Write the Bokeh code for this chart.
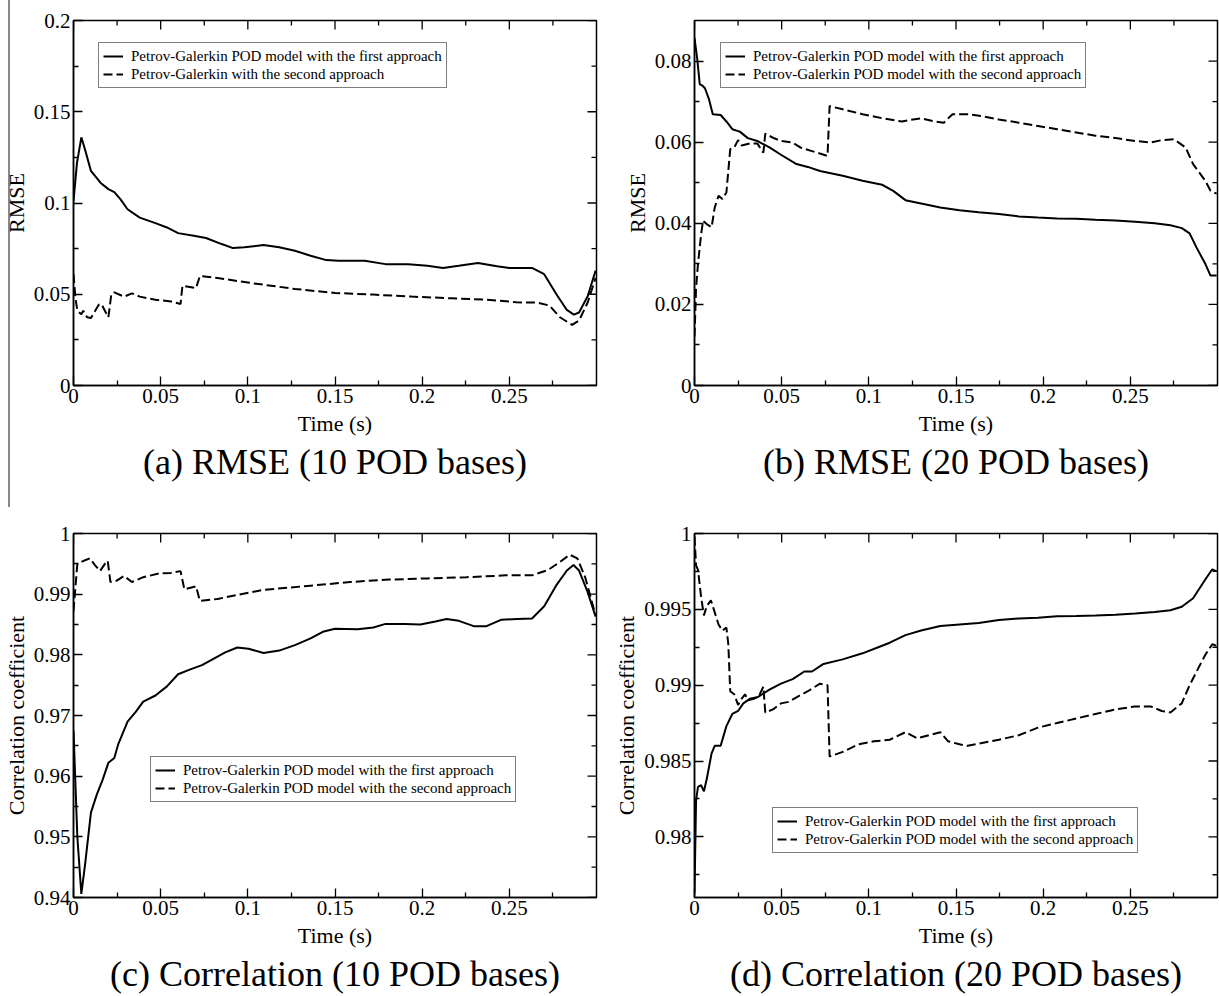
import math
from bokeh.plotting import figure
from bokeh.models import (FixedTicker, CustomJSTickFormatter, Range1d,
                          Title, Legend, LegendItem)
from bokeh.layouts import row, column
from bokeh.embed import file_html
from bokeh.resources import INLINE

# ---------------- data ----------------
x_major = [0, 0.05, 0.1, 0.15, 0.2, 0.25]
x_minor = [0.025, 0.075, 0.125, 0.175, 0.225, 0.275]

a_t_solid = [0.0, 0.002, 0.0045, 0.007, 0.010, 0.0156, 0.020, 0.0234, 0.027, 0.031, 0.038, 0.047,
             0.0536, 0.060, 0.069, 0.076, 0.085, 0.0915, 0.098, 0.109, 0.118, 0.127, 0.136, 0.145,
             0.152, 0.167, 0.179, 0.192, 0.203, 0.212, 0.221, 0.232, 0.243, 0.250, 0.263, 0.270,
             0.277, 0.283, 0.287, 0.290, 0.295, 0.2995]
a_solid = [0.101, 0.122, 0.136, 0.128, 0.1176, 0.111, 0.1076, 0.106, 0.102, 0.0966, 0.092, 0.089,
           0.0866, 0.0835, 0.082, 0.0808, 0.0775, 0.0753, 0.0757, 0.077, 0.0757, 0.0738, 0.0711, 0.0687,
           0.0684, 0.0684, 0.0665, 0.0665, 0.0656, 0.0644, 0.0656, 0.0671, 0.0653, 0.0644, 0.0644, 0.061,
           0.050, 0.0414, 0.0388, 0.040, 0.049, 0.063]
a_t_dash = [0.0, 0.0011, 0.0022, 0.0045, 0.0056, 0.0078, 0.010, 0.0145, 0.016, 0.018, 0.020, 0.0217,
            0.0234, 0.029, 0.0335, 0.038, 0.047, 0.056, 0.0614, 0.0625, 0.0703, 0.0725, 0.0826, 0.103,
            0.127, 0.150, 0.172, 0.194, 0.2165, 0.239, 0.254, 0.266, 0.273, 0.279, 0.286, 0.290,
            0.295, 0.2995]
a_dash = [0.061, 0.048, 0.041, 0.039, 0.041, 0.0374, 0.037, 0.0443, 0.0447, 0.041, 0.0374, 0.050,
          0.051, 0.0487, 0.0505, 0.0487, 0.047, 0.046, 0.0447, 0.0547, 0.0534, 0.060, 0.0589, 0.056,
          0.0529, 0.0507, 0.0498, 0.0487, 0.0478, 0.0469, 0.0456, 0.0454, 0.0438, 0.0374, 0.0332, 0.0356,
          0.0456, 0.059]

b_t_solid = [0.0, 0.0016, 0.003, 0.0049, 0.006, 0.0083, 0.0105, 0.015, 0.0183, 0.0217, 0.026, 0.0306,
             0.036, 0.043, 0.0496, 0.0585, 0.065, 0.072, 0.085, 0.0964, 0.1076, 0.114, 0.121, 0.130,
             0.141, 0.152, 0.163, 0.1746, 0.186, 0.197, 0.208, 0.219, 0.230, 0.2415, 0.2527, 0.264,
             0.273, 0.2795, 0.284, 0.288, 0.293, 0.296, 0.2995]
b_solid = [0.0857, 0.0804, 0.0743, 0.0738, 0.0733, 0.0706, 0.0669, 0.0667, 0.0651, 0.0632, 0.0626, 0.061,
           0.0603, 0.0587, 0.0569, 0.0546, 0.0539, 0.0529, 0.0517, 0.0505, 0.0495, 0.048, 0.0457, 0.0449,
           0.0439, 0.0432, 0.0427, 0.0423, 0.0417, 0.0414, 0.0412, 0.0411, 0.0409, 0.0407, 0.0404, 0.040,
           0.0395, 0.0388, 0.0375, 0.034, 0.030, 0.0271, 0.0271]
b_t_dash = [0.0, 0.0009, 0.002, 0.0038, 0.0049, 0.007, 0.0098, 0.0116, 0.0138, 0.016, 0.0183, 0.0205,
            0.0228, 0.025, 0.027, 0.0317, 0.036, 0.0395, 0.0406, 0.045, 0.0496, 0.0563, 0.0607, 0.0674,
            0.0763, 0.0775, 0.085, 0.0964, 0.1076, 0.119, 0.1254, 0.130, 0.1366, 0.143, 0.148, 0.157,
            0.1634, 0.1746, 0.186, 0.197, 0.208, 0.219, 0.230, 0.2415, 0.2527, 0.2616, 0.268, 0.275,
            0.2817, 0.286, 0.293, 0.296, 0.2995]
b_dash = [0.012, 0.024, 0.030, 0.0373, 0.0406, 0.0398, 0.039, 0.0439, 0.0468, 0.046, 0.0476, 0.0583,
          0.0587, 0.0605, 0.0592, 0.0597, 0.0597, 0.0574, 0.0621, 0.0611, 0.0603, 0.0599, 0.0587, 0.0578,
          0.0566, 0.0689, 0.0681, 0.0669, 0.0659, 0.0651, 0.0656, 0.0659, 0.0652, 0.0648, 0.0669, 0.0669,
          0.0665, 0.0656, 0.0648, 0.064, 0.0632, 0.0624, 0.0616, 0.061, 0.0603, 0.0599, 0.0605, 0.0607,
          0.0587, 0.0546, 0.0505, 0.048, 0.0473]

c_t_solid = [0.0, 0.0022, 0.0045, 0.0067, 0.010, 0.0134, 0.0167, 0.020, 0.0234, 0.0257, 0.031, 0.0357,
             0.040, 0.047, 0.0536, 0.060, 0.067, 0.0737, 0.080, 0.087, 0.094, 0.1004, 0.109, 0.118,
             0.127, 0.136, 0.143, 0.150, 0.163, 0.172, 0.179, 0.190, 0.199, 0.2076, 0.214, 0.221,
             0.230, 0.2366, 0.2455, 0.2545, 0.263, 0.270, 0.2768, 0.283, 0.2868, 0.290, 0.2946, 0.2995]
c_solid = [0.9675, 0.950, 0.9406, 0.9456, 0.954, 0.957, 0.9594, 0.9622, 0.963, 0.9653, 0.969, 0.9706,
           0.9723, 0.9733, 0.9748, 0.9768, 0.9776, 0.9783, 0.9793, 0.9804, 0.9812, 0.981, 0.9803, 0.9807,
           0.9816, 0.9827, 0.9838, 0.9843, 0.9842, 0.9845, 0.9851, 0.9851, 0.985, 0.9855, 0.9859, 0.9856,
           0.9847, 0.9847, 0.9858, 0.9859, 0.986, 0.988, 0.9914, 0.9939, 0.9948, 0.9939, 0.9906, 0.9863]
c_t_dash = [0.0, 0.0022, 0.0045, 0.0067, 0.0094, 0.0123, 0.0152, 0.018, 0.0196, 0.0212, 0.0246, 0.029,
            0.0335, 0.040, 0.049, 0.0558, 0.0614, 0.0636, 0.0703, 0.0725, 0.0826, 0.096, 0.109, 0.136,
            0.1585, 0.181, 0.203, 0.2254, 0.248, 0.263, 0.2723, 0.279, 0.2846, 0.289, 0.2935, 0.2995]
c_dash = [0.9872, 0.995, 0.9953, 0.9956, 0.9959, 0.9948, 0.9938, 0.995, 0.9955, 0.992, 0.9922, 0.993,
          0.992, 0.9928, 0.9934, 0.9935, 0.9938, 0.9908, 0.9913, 0.9889, 0.9892, 0.990, 0.9907, 0.9914,
          0.992, 0.9924, 0.9926, 0.9928, 0.9931, 0.9931, 0.994, 0.9953, 0.9965, 0.9959, 0.9928, 0.9865]

d_t_solid = [0.0, 0.0009, 0.002, 0.0038, 0.0054, 0.007, 0.0098, 0.0116, 0.015, 0.0183, 0.0217, 0.025,
             0.028, 0.0317, 0.036, 0.043, 0.0496, 0.0563, 0.063, 0.0674, 0.074, 0.085, 0.0964, 0.1076,
             0.112, 0.121, 0.130, 0.141, 0.152, 0.163, 0.1746, 0.186, 0.197, 0.208, 0.219, 0.230,
             0.2415, 0.2527, 0.264, 0.273, 0.2795, 0.286, 0.293, 0.297, 0.2995]
d_solid = [0.9763, 0.9824, 0.9833, 0.9834, 0.983, 0.9838, 0.9855, 0.986, 0.986, 0.9873, 0.9881, 0.9883,
           0.9888, 0.9891, 0.9892, 0.9897, 0.9901, 0.9904, 0.9909, 0.9909, 0.9914, 0.9917, 0.9921, 0.9926,
           0.9928, 0.9933, 0.9936, 0.9939, 0.994, 0.9941, 0.9943, 0.9944, 0.99445, 0.99454, 0.99456, 0.9946,
           0.99465, 0.99472, 0.99483, 0.99494, 0.99517, 0.99573, 0.99697, 0.99764, 0.9975]
d_t_dash = [0.0, 0.0009, 0.002, 0.0038, 0.0054, 0.007, 0.0094, 0.0116, 0.0138, 0.016, 0.0183, 0.0194,
            0.0205, 0.0228, 0.025, 0.027, 0.029, 0.0306, 0.034, 0.037, 0.0395, 0.0406, 0.045, 0.0496,
            0.054, 0.0585, 0.065, 0.072, 0.0763, 0.0775, 0.085, 0.094, 0.103, 0.112, 0.121, 0.1277,
            0.1344, 0.141, 0.1455, 0.152, 0.1567, 0.1656, 0.1746, 0.186, 0.197, 0.208, 0.219, 0.230,
            0.2415, 0.2527, 0.2616, 0.268, 0.273, 0.2795, 0.284, 0.288, 0.293, 0.297, 0.2995]
d_dash = [0.9998, 0.9979, 0.9976, 0.9958, 0.9946, 0.9952, 0.9956, 0.9948, 0.994, 0.9936, 0.9938, 0.9927,
          0.9896, 0.9894, 0.9887, 0.9891, 0.9894, 0.989, 0.9891, 0.9893, 0.9899, 0.9882, 0.9884, 0.9888,
          0.9889, 0.9892, 0.9896, 0.9901, 0.990, 0.9853, 0.9856, 0.9861, 0.9863, 0.9864, 0.9869, 0.9865,
          0.9867, 0.9869, 0.9863, 0.9861, 0.986, 0.9862, 0.9864, 0.9867, 0.9872, 0.9875, 0.9878, 0.9881,
          0.9884, 0.9886, 0.9886, 0.9883, 0.9882, 0.9888, 0.990, 0.9909, 0.992, 0.9927, 0.9926]

lab_first = "Petrov-Galerkin POD model with the first approach"
lab_second = "Petrov-Galerkin POD model with the second approach"
lab_second_a = "Petrov-Galerkin with the second approach"

SERIF = "Liberation Serif"
X_END = 0.3


def style_axis(ax, ticker):
    ax.ticker = ticker
    ax.major_tick_in = 9
    ax.major_tick_out = 0
    ax.minor_tick_in = 5
    ax.minor_tick_out = 0
    ax.major_tick_line_color = "black"
    ax.minor_tick_line_color = "black"
    ax.major_tick_line_width = 1.3
    ax.minor_tick_line_width = 1.3
    ax.axis_line_color = "black"
    ax.axis_line_width = 1.5
    ax.major_label_text_font = SERIF
    ax.major_label_text_font_size = "21px"
    ax.major_label_text_color = "black"
    ax.major_label_standoff = 3
    ax.formatter = CustomJSTickFormatter(code="return String(parseFloat(tick.toFixed(4)));")
    ax.axis_label_text_font = SERIF
    ax.axis_label_text_font_size = "22px"
    ax.axis_label_text_font_style = "normal"
    ax.axis_label_text_color = "black"


def mirror_ticks(p, ticks, length, y_top, horizontal):
    # tick marks on the opposite (top / right) frame edges, pointing inward
    if horizontal:
        p.ray(x=ticks, y=[y_top] * len(ticks), length=length, length_units="screen",
              angle=-math.pi / 2, line_color="black", line_width=1.3)
    else:
        p.ray(x=[X_END] * len(ticks), y=ticks, length=length, length_units="screen",
              angle=math.pi, line_color="black", line_width=1.3)


def make_panel(width, height, bl, br, bt, bb, ylim, ymajor, yminor, ylabel, caption,
               ts, vs, td, vd, lab2, leg_loc):
    p = figure(width=width, height=height, x_range=Range1d(0, X_END), y_range=Range1d(*ylim),
               output_backend="svg", toolbar_location=None,
               min_border_left=bl, min_border_right=br, min_border_top=bt, min_border_bottom=bb)
    p.grid.visible = False
    p.outline_line_color = "black"
    p.outline_line_width = 1.5
    xt = FixedTicker(ticks=x_major, minor_ticks=x_minor)
    yt = FixedTicker(ticks=ymajor, minor_ticks=yminor)
    style_axis(p.xaxis[0], xt)
    style_axis(p.yaxis[0], yt)
    p.xaxis[0].axis_label = "Time (s)"
    p.xaxis[0].axis_label_standoff = 5
    p.yaxis[0].axis_label = ylabel
    p.yaxis[0].axis_label_standoff = 2

    mirror_ticks(p, x_major, 9, ylim[1], True)
    mirror_ticks(p, x_minor, 5, ylim[1], True)
    mirror_ticks(p, ymajor, 9, None, False)
    mirror_ticks(p, yminor, 5, None, False)

    r1 = p.line(ts, vs, line_color="black", line_width=2)
    r2 = p.line(td, vd, line_color="black", line_width=2, line_dash="9 4")
    leg = Legend(items=[LegendItem(label=lab_first, renderers=[r1]),
                        LegendItem(label=lab2, renderers=[r2])],
                 location=leg_loc, orientation="vertical")
    leg.label_text_font = SERIF
    leg.label_text_font_size = "15px"
    leg.label_text_color = "black"
    leg.glyph_width = 20
    leg.glyph_height = 18
    leg.label_height = 18
    leg.label_standoff = 8
    leg.padding = 4
    leg.spacing = 0
    leg.margin = 0
    leg.border_line_color = "black"
    leg.border_line_width = 1.2
    leg.background_fill_color = "white"
    leg.background_fill_alpha = 1
    p.add_layout(leg)

    t = Title(text=caption, align="center", text_font=SERIF, text_font_size="36px",
              text_font_style="normal", text_color="black", standoff=2)
    p.add_layout(t, "below")
    return p


BL_R = 86
W_L = 694 - BL_R
W_R = 1219 - W_L
H_T = 513
H_B = 482

fa = make_panel(W_L, H_T, 73, W_L - 73 - 523, 20, H_T - 20 - 365, (0, 0.2),
                [0, 0.05, 0.1, 0.15, 0.2], [0.025, 0.075, 0.125, 0.175],
                "RMSE", "(a) RMSE (10 POD bases)",
                a_t_solid, a_solid, a_t_dash, a_dash, lab_second_a, (25, 297))
fb = make_panel(W_R, H_T, BL_R, W_R - BL_R - 523, 20, H_T - 20 - 365, (0, 0.09),
                [0, 0.02, 0.04, 0.06, 0.08], [0.01, 0.03, 0.05, 0.07],
                "RMSE", "(b) RMSE (20 POD bases)",
                b_t_solid, b_solid, b_t_dash, b_dash, lab_second, (26, 297))
fc = make_panel(W_L, H_B, 73, W_L - 73 - 523, 20, H_B - 20 - 364, (0.94, 1.0),
                [0.94, 0.95, 0.96, 0.97, 0.98, 0.99, 1.0],
                [0.945, 0.955, 0.965, 0.975, 0.985, 0.995],
                "Correlation coefficient", "(c) Correlation (10 POD bases)",
                c_t_solid, c_solid, c_t_dash, c_dash, lab_second, (77, 95))
fd = make_panel(W_R, H_B, BL_R, W_R - BL_R - 523, 20, H_B - 20 - 364, (0.976, 1.0),
                [0.98, 0.985, 0.99, 0.995, 1.0],
                [0.9775, 0.9825, 0.9875, 0.9925, 0.9975],
                "Correlation coefficient", "(d) Correlation (20 POD bases)",
                d_t_solid, d_solid, d_t_dash, d_dash, lab_second, (78, 44))

fa.border_fill_color = None
fa.styles = {"background-image": "linear-gradient(to right, transparent 8px, #888 8px, #888 10px, transparent 10px)",
             "background-size": "100% 507px", "background-repeat": "no-repeat"}

layout = column(row(fa, fb), row(fc, fd))
open("out.html", "w").write(file_html(layout, INLINE))
